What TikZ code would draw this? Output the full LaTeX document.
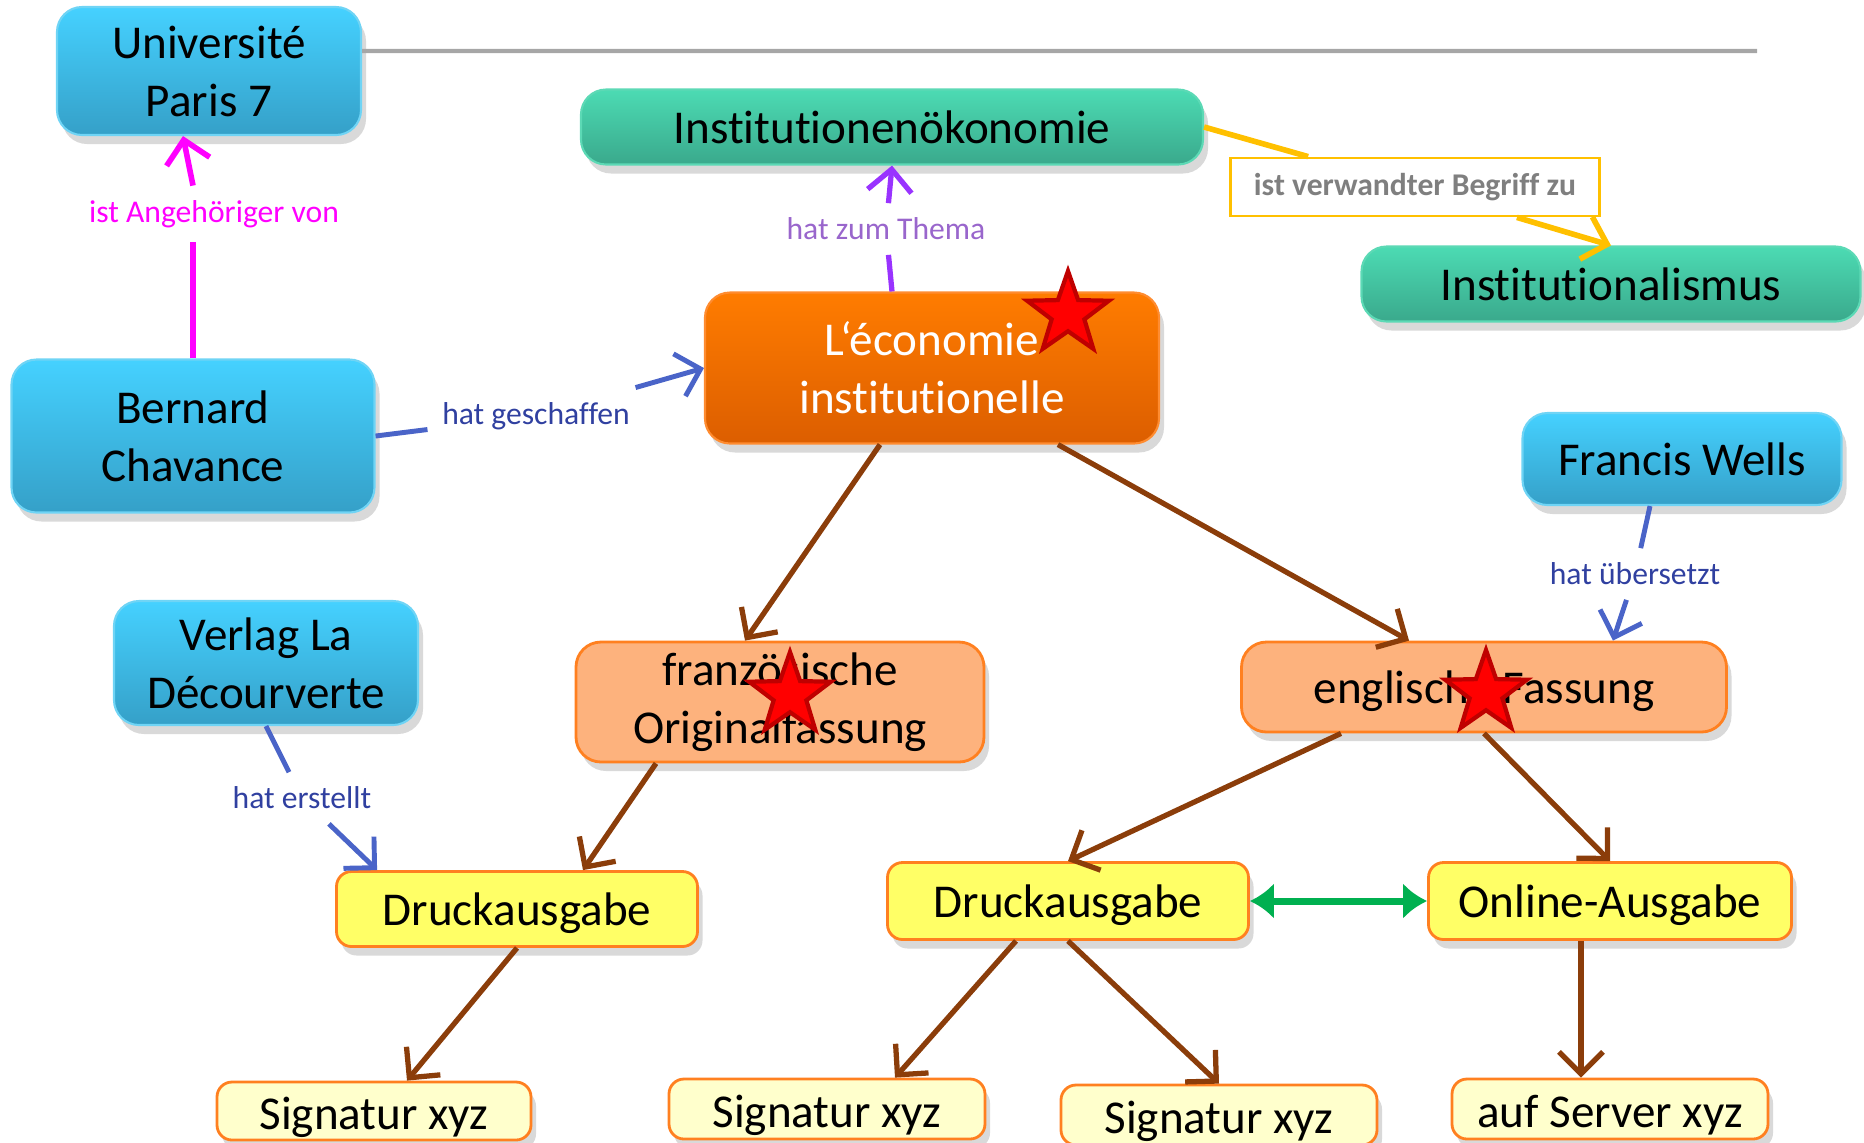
\documentclass[tikz,border=0pt]{standalone}
\usepackage{fontspec}
\setmainfont{Carlito}[RawFeature={-liga,-clig,-dlig,-calt}]
\usepackage{tikz}
\usetikzlibrary{arrows.meta,shapes.geometric,shadows}
\usepackage{xcolor}
\definecolor{bluetop}{HTML}{45D1FF}
\definecolor{bluebot}{HTML}{35A0C8}
\definecolor{blueedge}{HTML}{6FD4F5}
\definecolor{greentop}{HTML}{4CDBB3}
\definecolor{greenbot}{HTML}{3AA98C}
\definecolor{greenedge}{HTML}{5CD9B5}
\definecolor{orangetop}{HTML}{FF7C00}
\definecolor{orangebot}{HTML}{DC5E00}
\definecolor{orangeedge}{HTML}{FF8C30}
\definecolor{versfill}{HTML}{FDB27D}
\definecolor{versedge}{HTML}{FF8020}
\definecolor{ausgfill}{HTML}{FFFF66}
\definecolor{sigfill}{HTML}{FFFFCC}
\definecolor{magline}{HTML}{FF00FF}
\definecolor{blueline}{HTML}{4A64C8}
\definecolor{bluetext}{HTML}{3040A0}
\definecolor{purpline}{HTML}{9933FF}
\definecolor{purptext}{HTML}{9966CC}
\definecolor{yelline}{HTML}{FFC000}
\definecolor{brownline}{HTML}{8B3D0A}
\definecolor{greenarrow}{HTML}{00B050}
\definecolor{greyline}{HTML}{A6A6A6}
\definecolor{greytext}{HTML}{7F7F7F}

\begin{document}
\begin{tikzpicture}[scale=1,
    base/.style={rectangle,rounded corners=2.5mm,align=center,inner sep=0pt,font=\fontsize{13.4}{16.5}\selectfont,drop shadow={opacity=0.3,shadow xshift=0.5mm,shadow yshift=-0.9mm}},
    pers/.style={base,draw=blueedge,line width=0.6pt,top color=bluetop,bottom color=bluebot},
    topic/.style={base,draw=greenedge,line width=0.6pt,top color=greentop,bottom color=greenbot},
    mainc/.style={base,draw=orangeedge,line width=0.6pt,top color=orangetop,bottom color=orangebot,text=white},
    vers/.style={base,draw=versedge,line width=0.8pt,fill=versfill},
    ausg/.style={base,rounded corners=1.5mm,draw=versedge,line width=0.8pt,fill=ausgfill,text height=11.5pt},
    sig/.style={ausg,fill=sigfill,text height=12.8pt},
    rel/.style={font=\fontsize{9}{11}\selectfont,inner sep=4pt},
    tip/.style={-{Straight Barb[length=2.2mm,width=4.4mm]}},
    brownarr/.style={draw=brownline,line width=1.5pt,tip},
    star5/.style={star,star points=5,star point ratio=2.5,minimum size=0.86cm,inner sep=0pt,fill=red,draw=red!75!black,line width=1.2pt}]

\useasboundingbox (0,0) rectangle (18.64,-11.42);

\node[pers,minimum width=3.04cm,minimum height=1.28cm] (up7) at (2.09,-0.71) {Université\\Paris 7};
\node[topic,minimum width=6.22cm,minimum height=0.75cm] (inst) at (8.92,-1.27) {Institutionenökonomie};
\node[draw=yelline,fill=white,line width=0.8pt,minimum width=3.69cm,minimum height=0.58cm,font=\fontsize{9}{11}\selectfont\bfseries,text=greytext] (lverw) at (14.15,-1.87) {ist verwandter Begriff zu};
\node[topic,minimum width=4.99cm,minimum height=0.75cm] (instm) at (16.11,-2.84) {Institutionalismus};
\node[mainc,minimum width=4.54cm,minimum height=1.51cm] (leco) at (9.32,-3.68) {L‘économie\\institutionelle};
\node[pers,minimum width=3.63cm,minimum height=1.53cm] (bc) at (1.93,-4.36) {Bernard\\Chavance};
\node[pers,minimum width=3.19cm,minimum height=0.92cm] (fw) at (16.82,-4.59) {Francis Wells};
\node[pers,minimum width=3.04cm,minimum height=1.24cm] (ld) at (2.66,-6.63) {Verlag La\\Décourverte};
\node[vers,minimum width=4.08cm,minimum height=1.20cm] (fr) at (7.80,-7.02) {französische\\Originalfassung};
\node[vers,minimum width=4.85cm,minimum height=0.90cm,text height=11.5pt] (en) at (14.84,-6.87) {englische Fassung};
\node[ausg,minimum width=3.61cm,minimum height=0.75cm] (dl) at (5.17,-9.09) {Druckausgabe};
\node[ausg,minimum width=3.61cm,minimum height=0.77cm] (dm) at (10.68,-9.01) {Druckausgabe};
\node[ausg,minimum width=3.63cm,minimum height=0.77cm] (on) at (16.10,-9.01) {Online-Ausgabe};
\node[sig,minimum width=3.14cm,minimum height=0.58cm] (s1) at (3.74,-11.11) {Signatur xyz};
\node[sig,minimum width=3.16cm,minimum height=0.60cm] (s2) at (8.27,-11.09) {Signatur xyz};
\node[sig,minimum width=3.16cm,minimum height=0.60cm] (s3) at (12.19,-11.15) {Signatur xyz};
\node[sig,minimum width=3.16cm,minimum height=0.60cm] (s4) at (16.10,-11.09) {auf Server xyz};

\node[rel,text=magline] (lang) at (2.14,-2.14) {ist Angehöriger von};
\node[rel,text=bluetext] (lgesch) at (5.36,-4.16) {hat geschaffen};
\node[rel,text=purptext] (lthema) at (8.86,-2.29) {hat zum Thema};
\node[rel,text=bluetext] (lueb) at (16.35,-5.74) {hat übersetzt};
\node[rel,text=bluetext] (lerst) at (3.02,-7.98) {hat erstellt};

\coordinate (gend) at (17.57,-0.51);
\draw[greyline,line width=1.2pt] ([yshift=2mm]up7.east) -- (gend);

\draw[magline,line width=1.6pt] (bc.north) -- (lang.south -| bc.north);
\draw[magline,line width=1.6pt,tip] (lang.north -| bc.north) -- ([xshift=-2.6mm]up7.south);
\draw[blueline,line width=1.4pt] (bc.east) -- (lgesch);
\draw[blueline,line width=1.4pt,tip] (lgesch) -- (leco.west);
\draw[purpline,line width=1.5pt] (inst.south |- leco.north) -- (lthema);
\draw[purpline,line width=1.5pt,tip] (lthema) -- (inst.south);
\draw[yelline,line width=1.6pt] (inst.east) -- (lverw);
\draw[yelline,line width=1.6pt,tip] (lverw) -- (instm.north);
\draw[blueline,line width=1.4pt] ([xshift=-3.2mm]fw.south) -- (lueb);
\draw[blueline,line width=1.4pt,tip] (lueb) -- ([xshift=12.9mm]en.north);
\draw[blueline,line width=1.4pt] (ld.south) -- (lerst);
\draw[blueline,line width=1.4pt,tip] (lerst) -- ([xshift=4.2mm]dl.north west);

\draw[brownarr] ([xshift=-5.2mm]leco.south) -- ([xshift=-3.5mm]fr.north);
\draw[brownarr] ([xshift=12.6mm]leco.south) -- ([xshift=-7.5mm]en.north);
\draw[brownarr] ([xshift=-12.4mm]fr.south) -- ([xshift=6.6mm]dl.north);
\draw[brownarr] (dl.south) -- ([xshift=3.3mm]s1.north);
\draw[brownarr] ([xshift=-14.3mm]en.south) -- (dm.north);
\draw[brownarr] (en.south) -- (on.north);
\draw[brownarr] ([xshift=-5.2mm]dm.south) -- ([xshift=6.8mm]s2.north);
\draw[brownarr] (dm.south) -- (s3.north);
\draw[brownarr] ([xshift=-2.9mm]on.south) -- ([xshift=-2.9mm]s4.north);
\draw[greenarrow,line width=2pt,{Latex[length=2.4mm,width=3.6mm]}-{Latex[length=2.4mm,width=3.6mm]}] (dm.east) -- (on.west);

\node[star5] (st1) at (10.68,-3.14) {};
\node[star5] (st2) at (7.90,-6.95) {};
\node[star5] (st3) at (14.86,-6.93) {};

\end{tikzpicture}
\end{document}
